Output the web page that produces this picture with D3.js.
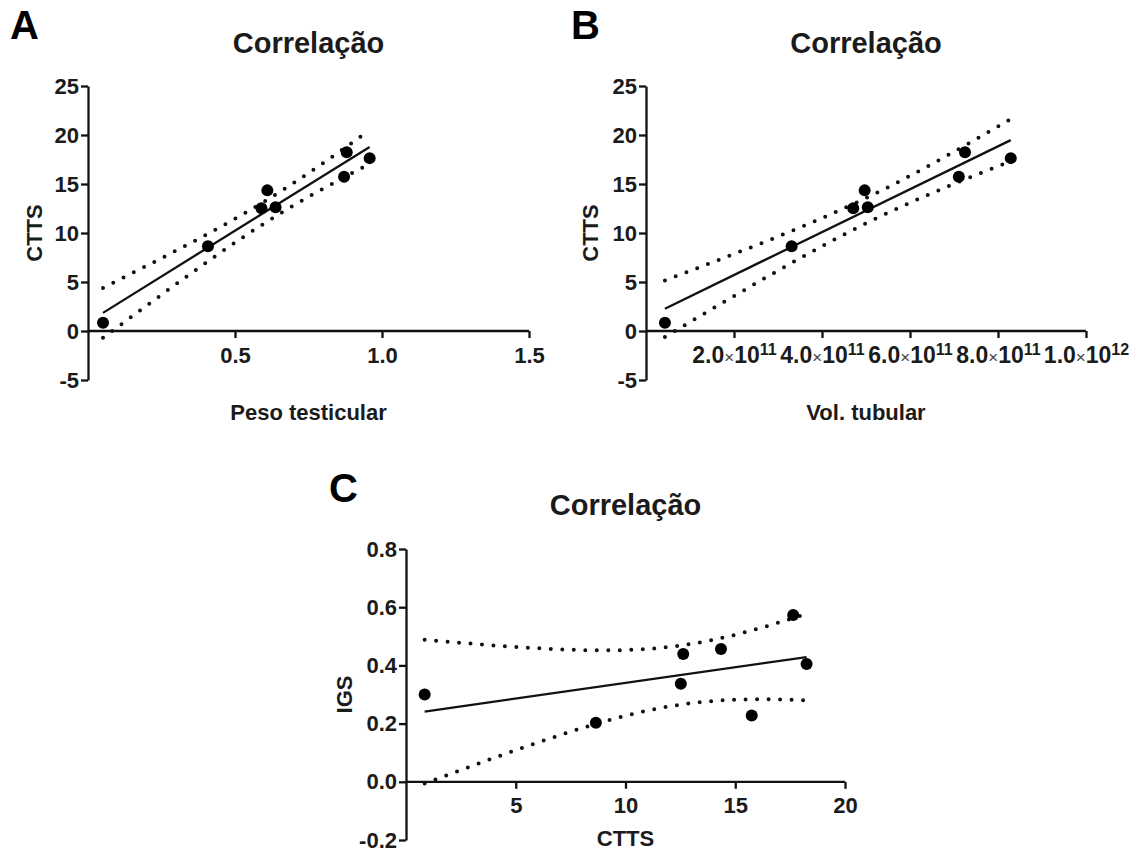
<!DOCTYPE html>
<html>
<head>
<meta charset="utf-8">
<script src="https://d3js.org/d3.v7.min.js"></script>
<style>
  body { margin: 0; background: #fff; }
  svg { display: block; font-family: "Liberation Sans", Arial, sans-serif; }
  .axis path, .axis line { stroke: #111; stroke-width: 2.3; }
  .axis text { font-size: 22px; font-weight: bold; fill: #1b1b1b; }
  .title { font-size: 29px; font-weight: bold; fill: #1b1b1b; }
  .label { font-size: 22px; font-weight: bold; fill: #1b1b1b; }
  .letter { font-size: 40px; font-weight: bold; fill: #000; }
  .fit { fill: none; stroke: #111; stroke-width: 2.3; }
  .band { fill: none; stroke: #111; stroke-width: 4; stroke-linecap: round; stroke-dasharray: 0 11.5; }
  .dot { fill: #000; }
</style>
</head>
<body>
<svg width="1137" height="852"></svg>
<script>
// one entry per animal, same order in every array
const ctts = [0.85, 8.65, 12.52, 14.35, 12.63, 15.75, 18.25, 17.64];
const pesoTesticular = [0.051, 0.408, 0.590, 0.610, 0.638, 0.871, 0.880, 0.958];
const volTubular = [0.43e11, 3.31e11, 4.71e11, 4.97e11, 5.04e11, 7.11e11, 7.25e11, 8.29e11];
const igs = [0.300, 0.203, 0.337, 0.456, 0.439, 0.228, 0.405, 0.573];

const cttsTicks = [-5, 0, 5, 10, 15, 20, 25];
const pesoTicks = [0.5, 1.0, 1.5];
const volTicks = [2e11, 4e11, 6e11, 8e11, 1e12];
const igsTicks = [-0.2, 0, 0.2, 0.4, 0.6, 0.8];
const cttsXTicks = [5, 10, 15, 20];

const svg = d3.select('svg');

// plain hyphen for negatives, as in the original
const fmt = spec => d => d3.format(spec)(d).replace('\u2212', '-');

// linear fit with 95% confidence band of the line
function fit(xs, ys) {
  const n = xs.length;
  const mx = d3.mean(xs), my = d3.mean(ys);
  const sxx = d3.sum(xs, x => (x - mx) ** 2);
  const sxy = d3.sum(xs.map((x, i) => (x - mx) * (ys[i] - my)));
  const b = sxy / sxx, a = my - b * mx;
  const s = Math.sqrt(d3.sum(xs.map((x, i) => (ys[i] - a - b * x) ** 2)) / (n - 2));
  const t = 2.4469;
  return { a, b, half: x => t * s * Math.sqrt(1 / n + (x - mx) ** 2 / sxx) };
}

function panel(o) {
  const g = svg.append('g');
  const x = d3.scaleLinear().domain(o.xDomain).range(o.xRange);
  const y = d3.scaleLinear().domain(o.yDomain).range(o.yRange);

  const xAxis = g.append('g')
    .attr('class', 'axis')
    .attr('transform', `translate(0,${y(0)})`)
    .call(d3.axisBottom(x).tickValues(o.xTicks).tickSize(7).tickSizeOuter(0)
      .tickPadding(9).tickFormat(o.xFormat));
  xAxis.select('.domain').attr('d', `M${x(o.xDomain[0])},0H${x(o.xDomain[1])}`);

  g.append('g')
    .attr('class', 'axis')
    .attr('transform', `translate(${x(0)},0)`)
    .call(d3.axisLeft(y).tickValues(o.yTicks).tickSize(7).tickSizeOuter(0)
      .tickPadding(2).tickFormat(o.yFormat));

  if (o.xTickHook) xAxis.selectAll('.tick text').each(o.xTickHook);

  const f = fit(o.xs, o.ys);
  const [x0, x1] = d3.extent(o.xs);
  const grid = d3.range(0, 1.0001, 0.02).map(k => x0 + k * (x1 - x0));

  g.append('line').attr('class', 'fit')
    .attr('x1', x(x0)).attr('y1', y(f.a + f.b * x0))
    .attr('x2', x(x1)).attr('y2', y(f.a + f.b * x1));

  const line = d3.line().x(d => x(d[0])).y(d => y(d[1]));
  [1, -1].forEach(sgn => {
    g.append('path').attr('class', 'band')
      .attr('d', line(grid.map(v => [v, f.a + f.b * v + sgn * f.half(v)])));
  });

  g.selectAll('.dot').data(o.xs).enter().append('circle')
    .attr('class', 'dot')
    .attr('cx', d => x(d))
    .attr('cy', (d, i) => y(o.ys[i]))
    .attr('r', 6);

  const cx = (o.xRange[0] + o.xRange[1]) / 2;
  g.append('text').attr('class', 'title').attr('x', cx).attr('y', o.titleY)
    .attr('text-anchor', 'middle').text('Correlação');
  g.append('text').attr('class', 'label').attr('x', cx).attr('y', o.xLabelY)
    .attr('text-anchor', 'middle').text(o.xLabel);
  g.append('text').attr('class', 'label')
    .attr('transform', `translate(${o.yLabelX},${(o.yRange[0] + o.yRange[1]) / 2}) rotate(-90)`)
    .attr('text-anchor', 'middle').text(o.yLabel);
  g.append('text').attr('class', 'letter').attr('x', o.letter[1]).attr('y', o.letter[2])
    .text(o.letter[0]);
}

panel({
  xs: pesoTesticular, ys: ctts,
  xDomain: [0, 1.5], xRange: [88, 529],
  yDomain: [-5, 25], yRange: [380, 86],
  xTicks: pesoTicks, yTicks: cttsTicks,
  xFormat: fmt('.1f'), yFormat: fmt('d'),
  titleY: 53, xLabel: 'Peso testicular', xLabelY: 420,
  yLabel: 'CTTS', yLabelX: 42, letter: ['A', 10, 39]
});

panel({
  xs: volTubular, ys: ctts,
  xDomain: [0, 1e12], xRange: [646, 1086],
  yDomain: [-5, 25], yRange: [380, 86],
  xTicks: volTicks, yTicks: cttsTicks,
  xFormat: d => d, yFormat: fmt('d'),
  xTickHook: function (d) {
    const el = d3.select(this).text(null).style('font-size', '23px');
    const e = Math.floor(Math.log10(d));
    el.append('tspan').text((d / 10 ** e).toFixed(1));
    el.append('tspan').attr('font-size', 17).attr('font-weight', 'normal').attr('fill', '#444').text('×');
    el.append('tspan').text('10');
    el.append('tspan').attr('font-size', 16).attr('dy', '-0.55em').text(e);
  },
  titleY: 53, xLabel: 'Vol. tubular', xLabelY: 420,
  yLabel: 'CTTS', yLabelX: 598, letter: ['B', 571, 39]
});

panel({
  xs: ctts, ys: igs,
  xDomain: [0, 20], xRange: [406, 845],
  yDomain: [-0.2, 0.8], yRange: [840, 549],
  xTicks: cttsXTicks, yTicks: igsTicks,
  xFormat: fmt('d'), yFormat: fmt('.1f'),
  titleY: 515, xLabel: 'CTTS', xLabelY: 846,
  yLabel: 'IGS', yLabelX: 352, letter: ['C', 329, 502]
});
</script>
</body>
</html>
